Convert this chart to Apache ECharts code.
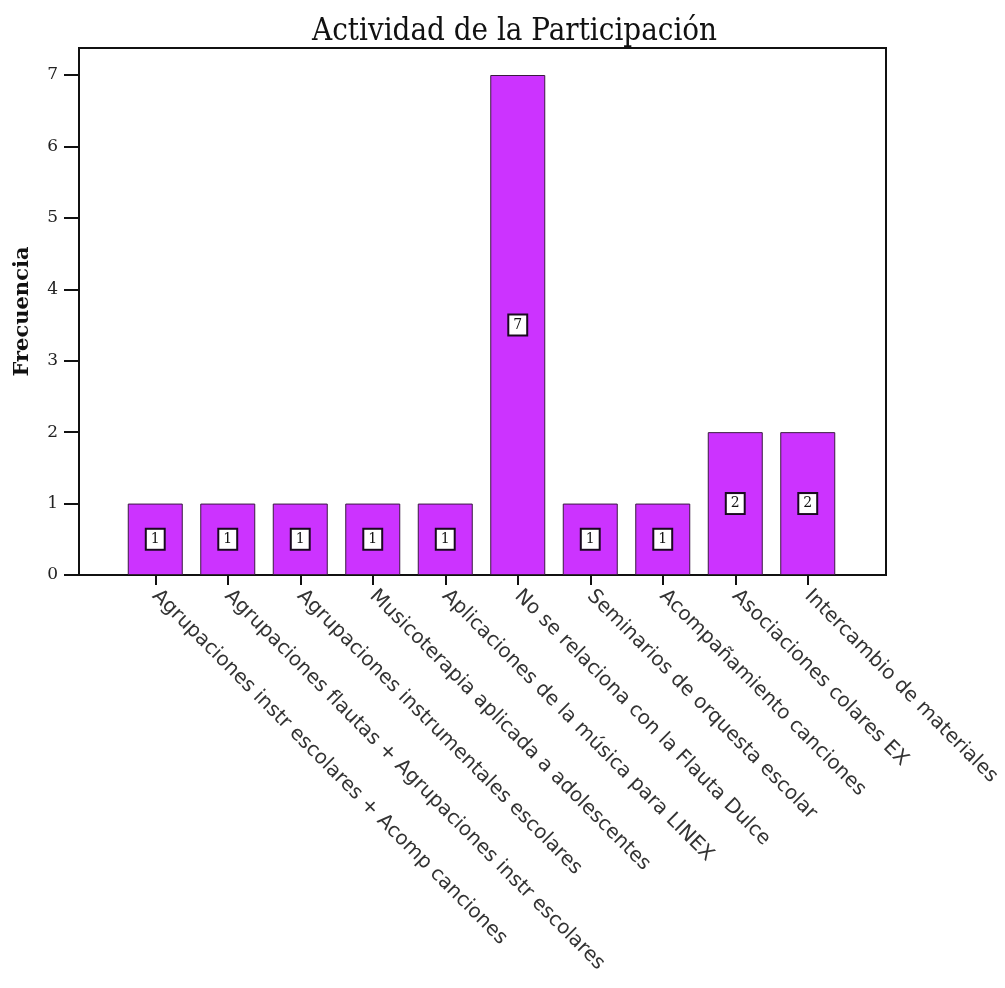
<!DOCTYPE html>
<html lang="es" style="height: 100%">
<head>
    <meta charset="utf-8">
    <title>Actividad de la Participación</title>
    <script src="https://cdn.jsdelivr.net/npm/echarts@6/dist/echarts.min.js"></script>
    <style>
        body { margin: 0; height: 100%; background: #fff; }
        #main { width: 1005px; height: 988px; }
    </style>
</head>
<body>
    <div id="main"></div>
    <script>
        // categorías del eje x
        var categorias = [
            'Agrupaciones instr escolares + Acomp canciones',
            'Agrupaciones flautas + Agrupaciones instr escolares',
            'Agrupaciones instrumentales escolares',
            'Musicoterapia aplicada a adolescentes',
            'Aplicaciones de la música para LINEX',
            'No se relaciona con la Flauta Dulce',
            'Seminarios de orquesta escolar',
            'Acompañamiento canciones',
            'Asociaciones colares EX',
            'Intercambio de materiales'
        ];
        // frecuencias
        var frecuencias = [1, 1, 1, 1, 1, 7, 1, 1, 2, 2];
        var marcasY = [0, 1, 2, 3, 4, 5, 6, 7];

        var chart = echarts.init(document.getElementById('main'), null, { renderer: 'canvas' });

        var option = {
            backgroundColor: '#ffffff',
            animation: false,
            title: {
                text: 'Actividad de la Participación',
                left: 307,
                top: 11,
                textStyle: {
                    fontFamily: 'DejaVu Serif Condensed, DejaVu Serif, serif',
                    fontSize: 31,
                    fontWeight: 'normal',
                    color: '#111'
                }
            },
            grid: [
                // área de datos
                { left: 119, right: 161, top: 75, bottom: 413, outerBoundsMode: 'none' },
                // marco del gráfico
                { left: 79, right: 119, top: 48, bottom: 413, show: true, outerBoundsMode: 'none',
                  borderColor: '#111', borderWidth: 2, backgroundColor: 'transparent' }
            ],
            xAxis: [
                {
                    type: 'category',
                    gridIndex: 0,
                    data: categorias,
                    axisLine: { show: false },
                    axisTick: { show: true, alignWithLabel: true, length: 10,
                                lineStyle: { color: '#111', width: 2 } },
                    axisLabel: {
                        rotate: -45,
                        interval: 0,
                        margin: 18,
                        fontFamily: 'DejaVu Sans, Verdana, sans-serif',
                        fontSize: 20,
                        color: '#333'
                    }
                },
                { type: 'value', gridIndex: 1, show: false }
            ],
            yAxis: [
                {
                    type: 'value',
                    gridIndex: 0,
                    min: 0,
                    max: 7,
                    interval: 1,
                    offset: 40,
                    axisLine: { show: true, lineStyle: { color: '#111', width: 2 } },
                    axisTick: { show: true, length: 15, lineStyle: { color: '#111', width: 2 } },
                    splitLine: { show: false },
                    axisLabel: {
                        margin: 21,
                        fontFamily: 'DejaVu Serif, serif',
                        fontSize: 17,
                        color: '#222',
                        formatter: function (v) { return marcasY.indexOf(v) >= 0 ? String(v) : ''; }
                    }
                },
                {
                    type: 'value',
                    gridIndex: 1,
                    name: 'Frecuencia',
                    nameLocation: 'middle',
                    nameGap: 46,
                    nameTextStyle: {
                        fontFamily: 'DejaVu Serif, serif',
                        fontSize: 21,
                        fontWeight: 'bold',
                        color: '#111'
                    },
                    axisLine: { show: false },
                    axisTick: { show: false },
                    axisLabel: { show: false },
                    splitLine: { show: false }
                }
            ],
            series: [{
                name: 'Frecuencia',
                type: 'bar',
                xAxisIndex: 0,
                yAxisIndex: 0,
                data: frecuencias,
                barWidth: 55,
                itemStyle: {
                    color: '#cc33ff',
                    borderColor: '#3a1a40',
                    borderWidth: 1
                },
                label: {
                    show: true,
                    position: 'inside',
                    fontFamily: 'DejaVu Serif, serif',
                    fontSize: 14,
                    color: '#111',
                    backgroundColor: '#ffffff',
                    borderColor: '#1a0a20',
                    borderWidth: 2,
                    padding: [3, 4, 2, 4]
                }
            }]
        };

        chart.setOption(option);
    </script>
</body>
</html>
